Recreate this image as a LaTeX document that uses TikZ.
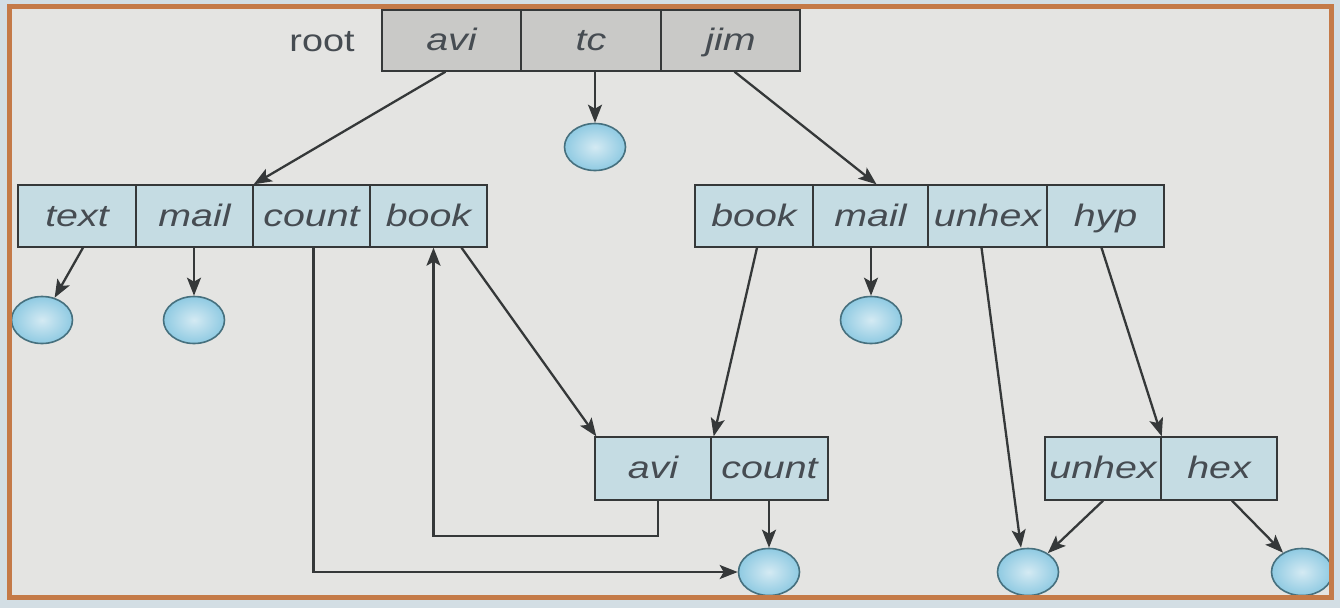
\documentclass[tikz,border=0pt]{standalone}
\usepackage{fontspec}
\usepackage{graphicx}
\setmainfont{Liberation Sans}
\usetikzlibrary{arrows.meta,shapes.geometric,calc}
\definecolor{outbg}{HTML}{D3DEE4}
\definecolor{inbg}{HTML}{E4E4E2}
\definecolor{frameor}{HTML}{C47A48}
\definecolor{boxblue}{HTML}{C5DCE3}
\definecolor{boxgray}{HTML}{C9C9C7}
\definecolor{linec}{HTML}{353839}
\definecolor{txtc}{HTML}{464C52}
\definecolor{ballin}{HTML}{D4EAF3}
\definecolor{ballout}{HTML}{8FCAE2}
\definecolor{balldraw}{HTML}{46707E}
\newcommand\ct[1]{\scalebox{1.27}[1]{\itshape #1}}
\tikzset{
  cellb/.style={draw=linec, line width=1.4pt, fill=boxblue, minimum height=62pt, inner sep=0pt, text=txtc,
    text height=24pt, text depth=4pt, font=\fontsize{31}{31}\selectfont},
  cellg/.style={cellb, fill=boxgray, minimum height=61pt},
  ball/.style={ellipse, draw=balldraw, line width=1.6pt, minimum width=61pt, minimum height=47pt, inner sep=0pt,
    shading=radial, inner color=ballin, outer color=ballout},
  link/.style={draw=linec, line width=2.3pt, -{Stealth[length=18pt,width=14pt,inset=4pt]}},
}
\begin{document}
\begin{tikzpicture}[x=1pt,y=-1pt]
\useasboundingbox (0,0) rectangle (1340,608);
\fill[outbg] (0,0) rectangle (1340,608);
\fill[inbg] (9.5,6.5) rectangle (1331.5,597.5);
% root
\node[text=txtc, font=\fontsize{31}{31}\selectfont, text height=24pt, text depth=4pt, inner sep=0pt] (root) at (322,41) {\scalebox{1.22}[1]{root}};
\node[cellg, minimum width=139pt] (r1) at (451.5,40.5) {\ct{avi}};
\node[cellg, minimum width=140pt] (r2) at (591,40.5) {\ct{tc}};
\node[cellg, minimum width=139pt] (r3) at (730.5,40.5) {\ct{jim}};
% left box
\node[cellb, minimum width=118pt] (L1) at (77,216) {\ct{text}};
\node[cellb, minimum width=117pt] (L2) at (194.5,216) {\ct{mail}};
\node[cellb, minimum width=117pt] (L3) at (311.5,216) {\ct{count}};
\node[cellb, minimum width=117pt] (L4) at (428.5,216) {\ct{book}};
% right box
\node[cellb, minimum width=118pt] (R1) at (754,216) {\ct{book}};
\node[cellb, minimum width=115pt] (R2) at (870.5,216) {\ct{mail}};
\node[cellb, minimum width=119pt] (R3) at (987.5,216) {\ct{unhex}};
\node[cellb, minimum width=117pt] (R4) at (1105.5,216) {\ct{hyp}};
% avi/count box
\node[cellb, minimum width=116pt, minimum height=63pt] (A1) at (653,468.5) {\ct{avi}};
\node[cellb, minimum width=117pt, minimum height=63pt] (A2) at (769.5,468.5) {\ct{count}};
% unhex/hex box
\node[cellb, minimum width=116pt, minimum height=63pt] (H1) at (1103,468.5) {\ct{unhex}};
\node[cellb, minimum width=116pt, minimum height=63pt] (H2) at (1219,468.5) {\ct{hex}};
% balls
\node[ball] (ctc) at (595,147) {};
\node[ball] (c1) at (42,320) {};
\node[ball] (c2) at (194,320) {};
\node[ball] (c4) at (871,320) {};
\node[ball] (cb1) at (769,572) {};
\node[ball] (cb2) at (1028,572) {};
\node[ball] (cb3) at (1302,572) {};
% links
\draw[link] ([xshift=-6pt]r1.south) -- (L2.north east);
\draw[link] (ctc.north |- r2.south) -- (ctc.north);
\draw[link] ([xshift=4pt]r3.south) -- ([xshift=6pt]R2.north);
\draw[link] ([xshift=6pt]L1.south) -- (c1);
\draw[link] (c2.north |- L2.south) -- (c2.north);
\draw[link] ([xshift=2pt]L3.south) |- (cb1.west);
\draw[link] ([xshift=5pt]A1.south) -- ++(0,35) -| ([xshift=5pt]L4.south);
\draw[link] ([xshift=33pt]L4.south) -- ([xshift=2pt]A1.north west);
\draw[link] ([xshift=3pt]R1.south) -- ([xshift=2pt]A1.north east);
\draw[link] (c4.north |- R2.south) -- (c4.north);
\draw[link] ([xshift=-6pt]R3.south) -- ([xshift=-7pt]cb2.north);
\draw[link] ([xshift=-4pt]R4.south) -- (H1.north east);
\draw[link] (H1.south) -- (cb2);
\draw[link] ([xshift=13pt]H2.south) -- (cb3);
\draw[link] (cb1.north |- A2.south) -- (cb1.north);
% frame
\draw[frameor, line width=5pt] (9.5,6.5) rectangle (1331.5,597.5);
\end{tikzpicture}
\end{document}
